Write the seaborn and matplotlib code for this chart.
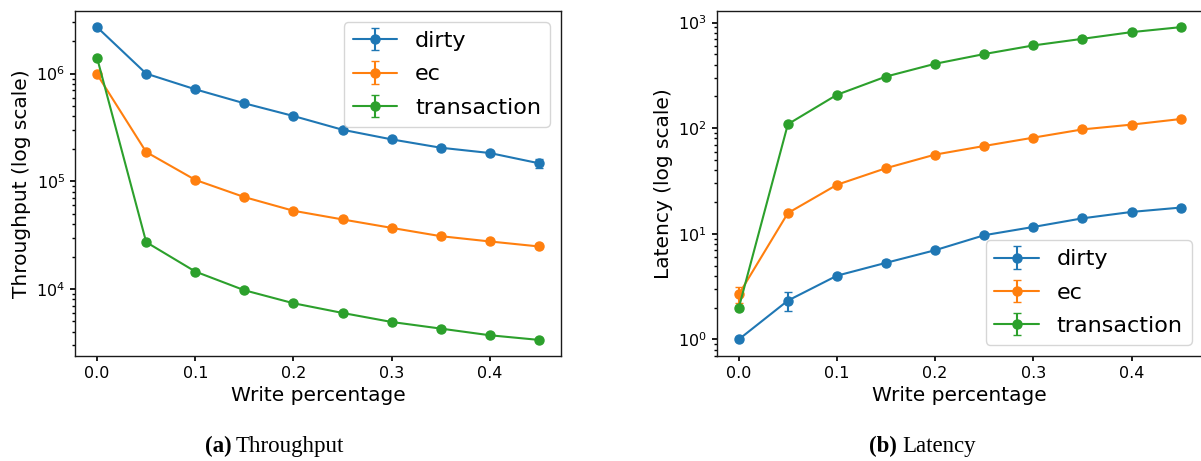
"""
Throughput and latency against write percentage, for three consistency modes.
"""
import numpy as np
import pandas as pd
import seaborn as sns
import matplotlib.pyplot as plt

# write percentage on the x axis
write_pct = [0.0, 0.05, 0.10, 0.15, 0.20, 0.25, 0.30, 0.35, 0.40, 0.45]
modes = ["dirty", "ec", "transaction"]

# throughput (ops/s)
thr_dirty = [2.70e6, 1.00e6, 7.15e5, 5.30e5, 4.04e5, 3.01e5, 2.45e5, 2.05e5, 1.83e5, 1.47e5]
thr_ec = [9.86e5, 1.87e5, 1.03e5, 7.13e4, 5.32e4, 4.42e4, 3.69e4, 3.09e4, 2.76e4, 2.48e4]
thr_trans = [1.40e6, 2.72e4, 1.45e4, 9.72e3, 7.36e3, 5.98e3, 4.93e3, 4.28e3, 3.71e3, 3.36e3]
thr_dirty_err = [3.0e4, 1.5e4, 8.0e3, 6.0e3, 5.0e3, 4.0e3, 4.0e3, 4.0e3, 5.0e3, 1.55e4]
thr_ec_err = [1.0e4, 2.0e3, 1.0e3, 7.0e2, 5.0e2, 4.0e2, 4.0e2, 3.0e2, 3.0e2, 3.0e2]
thr_trans_err = [1.5e4, 3.0e2, 1.5e2, 1.0e2, 7.0e1, 6.0e1, 5.0e1, 4.0e1, 4.0e1, 3.0e1]

# latency (ms)
lat_dirty = [1.00, 2.33, 4.01, 5.31, 6.99, 9.69, 11.6, 14.0, 16.1, 17.7]
lat_ec = [2.67, 15.7, 29.1, 41.8, 56.2, 67.8, 81.3, 97.3, 108, 122]
lat_trans = [1.99, 109, 207, 308, 407, 503, 607, 701, 811, 904]
lat_dirty_err = [0.02, 0.46, 0.15, 0.30, 0.15, 0.20, 0.25, 0.30, 0.30, 0.40]
lat_ec_err = [0.48, 0.3, 0.5, 0.7, 0.9, 1.0, 1.2, 1.4, 1.6, 1.8]
lat_trans_err = [0.08, 1.5, 2.5, 3.5, 4.5, 5.5, 6.5, 7.5, 8.5, 9.5]


def draw(ax, values, errors, ylabel, legend_loc):
    colors = sns.color_palette("tab10", 3)
    for name, vals, errs, col in zip(modes, values, errors, colors):
        ax.errorbar(write_pct, vals, yerr=errs, label=name, color=col,
                    marker="o", markersize=6.5, linewidth=1.5, capsize=3)
    ax.set_yscale("log")
    ax.set_xlabel("Write percentage")
    ax.set_ylabel(ylabel)
    ax.set_xticks([0.0, 0.1, 0.2, 0.3, 0.4])
    ax.legend(loc=legend_loc, fontsize=16, labelspacing=0.6)


def main():
    sns.set_theme(style="ticks", palette="tab10", rc={
        "axes.labelsize": 14.5,
        "xtick.labelsize": 11.5,
        "ytick.labelsize": 11.5,
        "axes.edgecolor": "0.1",
        "axes.linewidth": 1.0,
        "xtick.major.size": 3.5,
        "ytick.major.size": 3.5,
        "ytick.minor.size": 2,
        "xtick.color": "black",
        "ytick.color": "black",
        "text.color": "black",
        "axes.labelcolor": "black",
    })
    plt.rcParams["font.family"] = ["DejaVu Sans"]

    fig = plt.figure(figsize=(12.01, 4.61), dpi=100)
    ax1 = fig.add_axes([75 / 1201, 105 / 461, 486 / 1201, 345 / 461])
    ax2 = fig.add_axes([716.7 / 1201, 105 / 461, 486 / 1201, 345 / 461])

    draw(ax1, [thr_dirty, thr_ec, thr_trans],
         [thr_dirty_err, thr_ec_err, thr_trans_err],
         "Throughput (log scale)", "upper right")
    draw(ax2, [lat_dirty, lat_ec, lat_trans],
         [lat_dirty_err, lat_ec_err, lat_trans_err],
         "Latency (log scale)", "lower right")

    # subfigure captions
    cap = dict(family="Liberation Serif", fontsize=16.5, va="baseline")
    ybase = 9 / 461
    fig.text(232 / 1201, ybase, "(a)", ha="right", weight="bold", **cap)
    fig.text(236 / 1201, ybase, "Throughput", ha="left", **cap)
    fig.text(897 / 1201, ybase, "(b)", ha="right", weight="bold", **cap)
    fig.text(902 / 1201, ybase, "Latency", ha="left", **cap)

    fig.savefig("out.png", dpi=100)


if __name__ == "__main__":
    main()
